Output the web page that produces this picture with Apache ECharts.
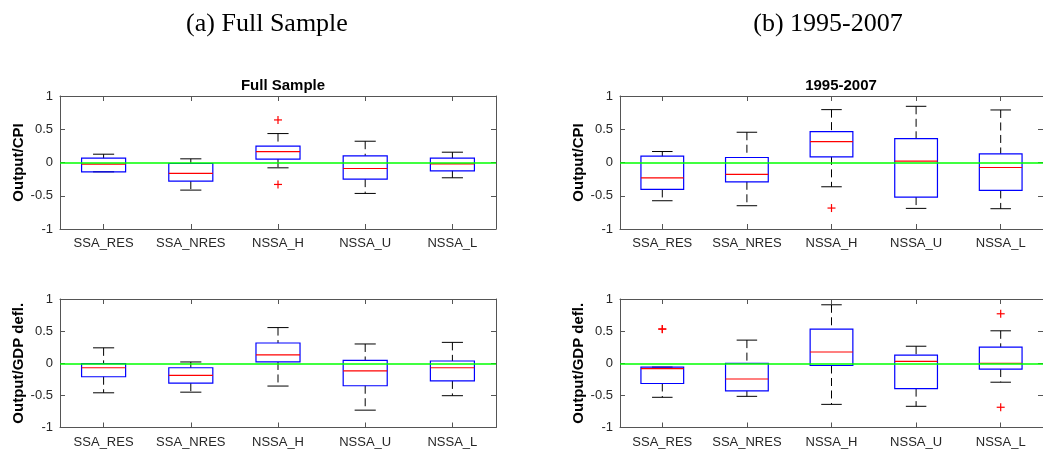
<!DOCTYPE html>
<html>
<head>
<meta charset="utf-8">
<script src="https://cdn.jsdelivr.net/npm/echarts@6/dist/echarts.min.js"></script>
<style>
  html, body { margin: 0; padding: 0; background: #fff; }
  #chart { width: 1043px; height: 449px; }
</style>
</head>
<body>
<div id="chart"></div>
<script>
// 分类
const categories = ['SSA_RES', 'SSA_NRES', 'NSSA_H', 'NSSA_U', 'NSSA_L'];

// 每组: [下须, 下四分位, 中位数, 上四分位, 上须]
const cpiFull = [
    [-0.14, -0.14, -0.025, 0.065, 0.125],
    [-0.415, -0.28, -0.165, -0.015, 0.055],
    [-0.08, 0.05, 0.165, 0.245, 0.435],
    [-0.465, -0.25, -0.09, 0.10, 0.32],
    [-0.23, -0.125, -0.02, 0.065, 0.155]
];
const cpiFullOut = [[2, 0.64], [2, -0.33]];

const cpiSub = [
    [-0.575, -0.405, -0.23, 0.095, 0.165],
    [-0.65, -0.29, -0.18, 0.075, 0.455],
    [-0.365, 0.085, 0.315, 0.465, 0.795],
    [-0.69, -0.52, 0.02, 0.36, 0.845],
    [-0.695, -0.42, -0.075, 0.13, 0.79]
];
const cpiSubOut = [[2, -0.685]];

const gdpFull = [
    [-0.46, -0.21, -0.07, -0.005, 0.24],
    [-0.45, -0.31, -0.19, -0.07, 0.02],
    [-0.355, 0.02, 0.13, 0.315, 0.555],
    [-0.73, -0.35, -0.12, 0.045, 0.30],
    [-0.505, -0.275, -0.07, 0.035, 0.325]
];
const gdpFullOut = [];

const gdpSub = [
    [-0.53, -0.315, -0.085, -0.06, -0.06],
    [-0.515, -0.43, -0.245, 0.0, 0.36],
    [-0.64, -0.035, 0.175, 0.53, 0.91],
    [-0.67, -0.395, 0.03, 0.125, 0.265],
    [-0.295, -0.09, 0.0, 0.25, 0.505]
];
const gdpSubOut = [[0, 0.53], [0, 0.535], [4, 0.77], [4, -0.685]];

const yTicks = { min: -1, max: 1, interval: 0.5 };

const chart = echarts.init(document.querySelector('#chart'));

const axisColor = '#555';
const textColor = '#262626';
const fontFamily = '"Liberation Sans", Arial, sans-serif';

// 四个面板的位置
const panels = [
    { left: 60, top: 96, width: 436, height: 133, name: 'Output/CPI', title: 'Full Sample', box: cpiFull, out: cpiFullOut },
    { left: 620, top: 96, width: 434, height: 133, name: 'Output/CPI', title: '1995-2007', box: cpiSub, out: cpiSubOut },
    { left: 60, top: 299, width: 436, height: 128.5, name: 'Output/GDP defl.', title: '', box: gdpFull, out: gdpFullOut },
    { left: 620, top: 299, width: 434, height: 128.5, name: 'Output/GDP defl.', title: '', box: gdpSub, out: gdpSubOut }
];

function renderBox(params, api) {
    const x = api.value(0);
    const pLow = api.coord([x, api.value(1)]);
    const pQ1 = api.coord([x, api.value(2)]);
    const pMed = api.coord([x, api.value(3)]);
    const pQ3 = api.coord([x, api.value(4)]);
    const pHigh = api.coord([x, api.value(5)]);
    const cx = pMed[0];
    const bw = api.size([1, 0])[0] * 0.505;
    const cw = bw * 0.48;
    const dash = { stroke: '#000', lineWidth: 1, lineDash: [8, 4.5] };
    const solid = { stroke: '#000', lineWidth: 1 };
    return {
        type: 'group',
        children: [
            { type: 'line', shape: { x1: cx, y1: pHigh[1], x2: cx, y2: pQ3[1] }, style: dash },
            { type: 'line', shape: { x1: cx, y1: pQ1[1], x2: cx, y2: pLow[1] }, style: dash },
            { type: 'line', shape: { x1: cx - cw / 2, y1: pHigh[1], x2: cx + cw / 2, y2: pHigh[1] }, style: solid },
            { type: 'line', shape: { x1: cx - cw / 2, y1: pLow[1], x2: cx + cw / 2, y2: pLow[1] }, style: solid },
            { type: 'rect', shape: { x: cx - bw / 2, y: pQ3[1], width: bw, height: pQ1[1] - pQ3[1] },
              style: { fill: 'none', stroke: '#0000ff', lineWidth: 1.2 } },
            { type: 'line', shape: { x1: cx - bw / 2, y1: pMed[1], x2: cx + bw / 2, y2: pMed[1] },
              style: { stroke: '#ff0000', lineWidth: 1.2 } }
        ]
    };
}

function renderPlus(params, api) {
    const p = api.coord([api.value(0), api.value(1)]);
    const s = 4;
    const st = { stroke: '#ff0000', lineWidth: 1.2 };
    return {
        type: 'group',
        children: [
            { type: 'line', shape: { x1: p[0] - s, y1: p[1], x2: p[0] + s, y2: p[1] }, style: st },
            { type: 'line', shape: { x1: p[0], y1: p[1] - s, x2: p[0], y2: p[1] + s }, style: st }
        ]
    };
}

const grid = [], xAxis = [], yAxis = [], series = [], title = [];

panels.forEach((p, i) => {
    grid.push({ left: p.left, top: p.top, width: p.width, height: p.height });

    // 底部/顶部分类轴
    ['bottom', 'top'].forEach(pos => {
        xAxis.push({
            type: 'category',
            gridIndex: i,
            position: pos,
            data: categories,
            boundaryGap: true,
            axisLine: { show: true, onZero: false, lineStyle: { color: axisColor, width: 1 } },
            axisTick: { show: true, inside: true, alignWithLabel: true, length: 5, lineStyle: { color: axisColor } },
            axisLabel: { show: pos === 'bottom', interval: 0, color: textColor, fontSize: 13, fontFamily: fontFamily, margin: 8 },
            splitLine: { show: false }
        });
    });

    // 左/右数值轴
    ['left', 'right'].forEach(pos => {
        yAxis.push({
            type: 'value',
            gridIndex: i,
            position: pos,
            min: yTicks.min,
            max: yTicks.max,
            interval: yTicks.interval,
            name: pos === 'left' ? p.name : '',
            nameLocation: 'middle',
            nameGap: 29,
            nameTextStyle: { color: '#000', fontSize: 15, fontWeight: 'bold', fontFamily: fontFamily },
            axisLine: { show: true, onZero: false, lineStyle: { color: axisColor, width: 1 } },
            axisTick: { show: true, inside: true, length: 5, lineStyle: { color: axisColor } },
            axisLabel: { show: pos === 'left', color: textColor, fontSize: 13, fontFamily: fontFamily, margin: 7 },
            splitLine: { show: false }
        });
    });

    series.push({
        type: 'custom',
        xAxisIndex: i * 2,
        yAxisIndex: i * 2,
        renderItem: renderBox,
        encode: { x: 0, y: [1, 2, 3, 4, 5] },
        data: p.box.map((d, k) => [k].concat(d)),
        z: 2
    });

    series.push({
        type: 'custom',
        xAxisIndex: i * 2,
        yAxisIndex: i * 2,
        renderItem: renderPlus,
        encode: { x: 0, y: 1 },
        data: p.out,
        z: 3,
        markLine: {
            silent: true,
            symbol: 'none',
            label: { show: false },
            lineStyle: { color: '#00ff00', type: 'solid', width: 1.6 },
            data: [{ yAxis: 0 }]
        }
    });

    if (p.title) {
        title.push({
            text: p.title,
            left: p.left + p.width / 2 - (i === 1 ? 1 : 0),
            top: 73,
            textAlign: 'center',
            textStyle: { fontSize: 15, fontWeight: 'bold', color: '#000', fontFamily: fontFamily }
        });
    }
});

chart.setOption({
    animation: false,
    backgroundColor: '#fff',
    title: title,
    grid: grid,
    xAxis: xAxis,
    yAxis: yAxis,
    series: series,
    graphic: [
        { type: 'text', x: 267, y: 24, style: { text: '(a) Full Sample', font: '26px "Liberation Serif", serif', fill: '#000', textAlign: 'center', textVerticalAlign: 'middle' } },
        { type: 'text', x: 828, y: 24, style: { text: '(b) 1995-2007', font: '26px "Liberation Serif", serif', fill: '#000', textAlign: 'center', textVerticalAlign: 'middle' } }
    ]
});
</script>
</body>
</html>
